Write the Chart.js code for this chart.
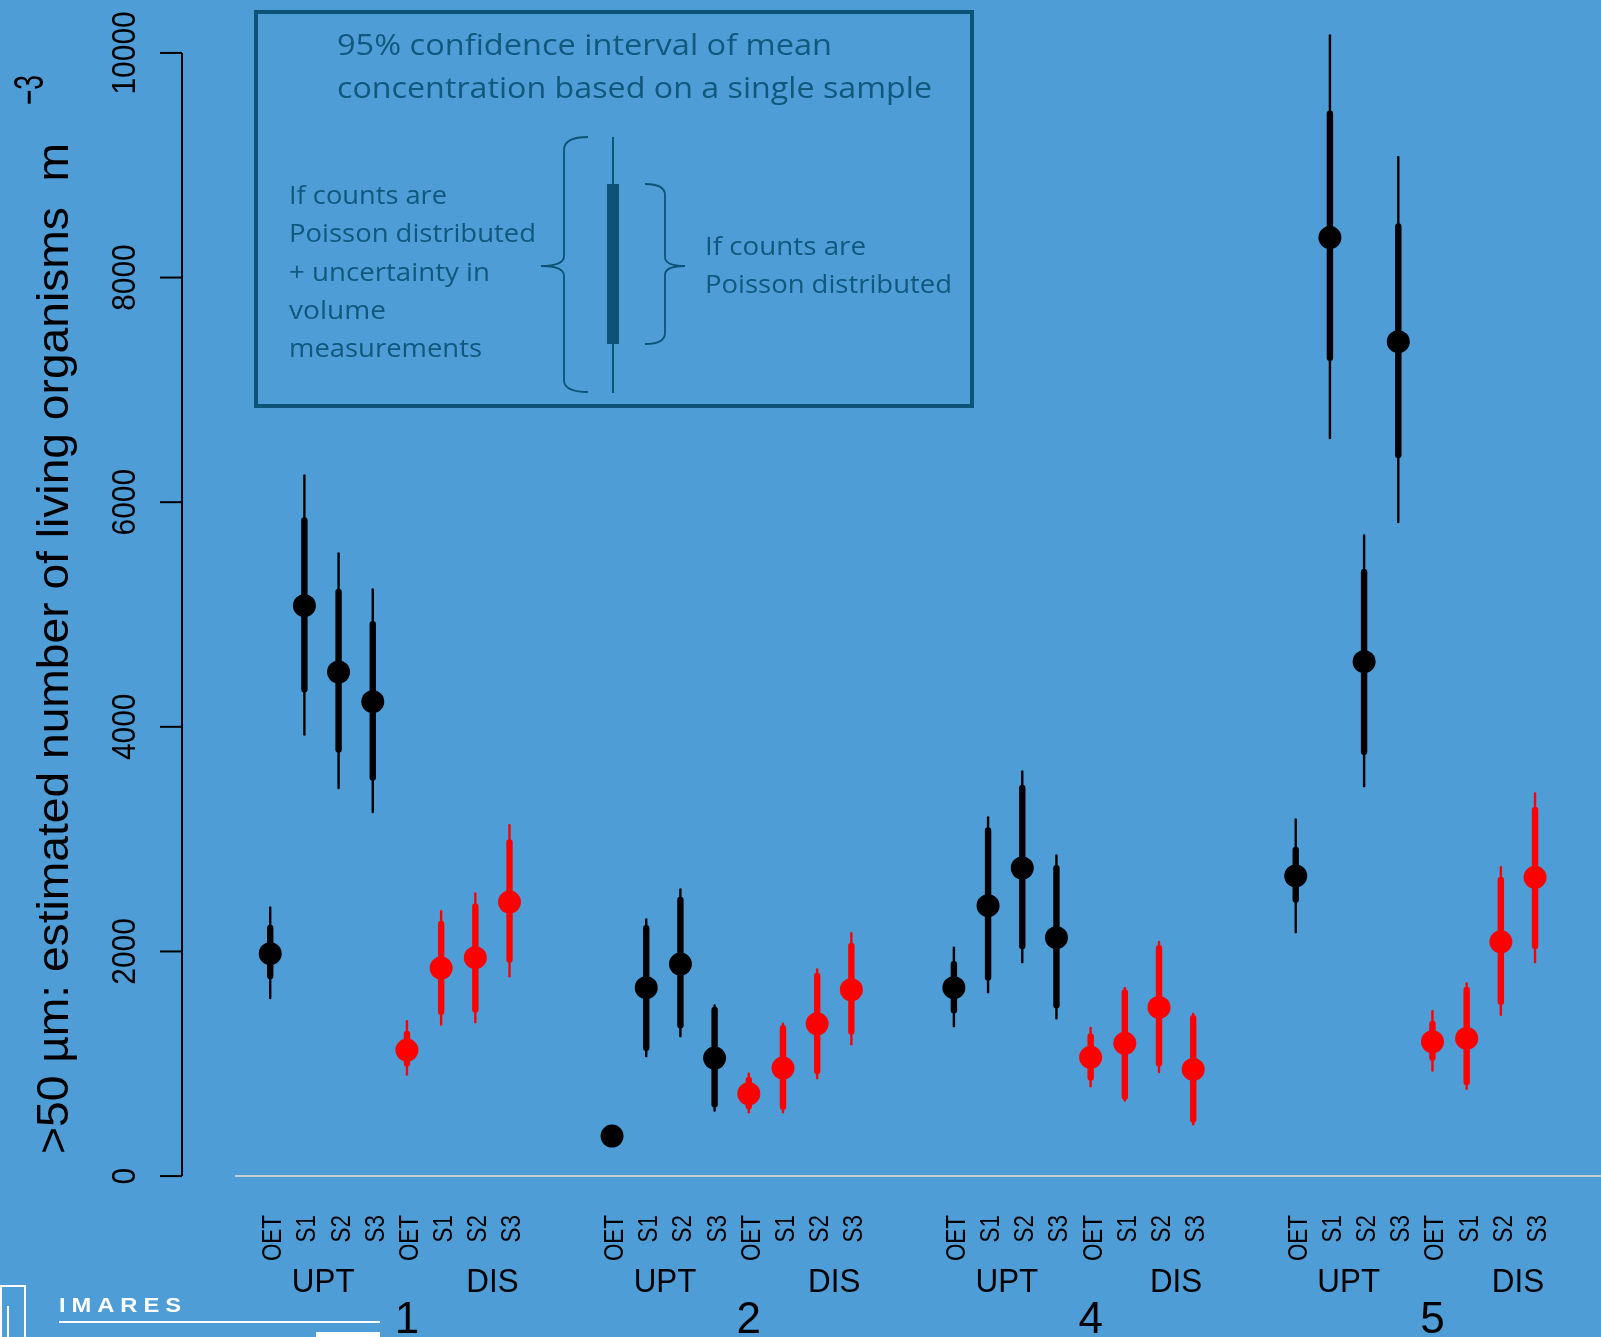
<!DOCTYPE html>
<html>
<head>
<meta charset="utf-8">
<title>Living organisms &gt;50 µm</title>
<script src="https://cdn.jsdelivr.net/npm/chart.js@4"></script>
<style>
  html, body { margin: 0; padding: 0; background: #4f9dd7; overflow: hidden; }
  #wrap { position: relative; width: 1601px; height: 1337px; }
</style>
</head>
<body>
<div id="wrap"><canvas id="myChart"></canvas></div>
<script>
const GROUPS = ['1', '2', '4', '5'];
const SITES = ['OET', 'S1', 'S2', 'S3'];
const SIDES = ['UPT', 'DIS'];
const Y_TICKS = [0, 2000, 4000, 6000, 8000, 10000];

// each array: 4 groups x 4 sites (OET, S1, S2, S3)
const uptMean    = [1980, 5079, 4488, 4224,   356, 1677, 1888, 1051,   1677, 2407, 2743, 2122,   2672, 8356, 4580, 7429];
const uptThickLo = [1752, 4307, 3770, 3520,   300, 1113, 1315,  612,   1449, 1739, 2021, 1493,   2434, 7258, 3749, 6391];
const uptThickHi = [2238, 5866, 5230, 4942,   420, 2235, 2487, 1508,   1915, 3105, 3485, 2770,   2932, 9487, 5405, 8484];
const uptThinLo  = [1574, 3921, 3444, 3230,   280, 1057, 1235,  573,   1324, 1627, 1894, 1395,   2161, 6560, 3461, 5812];
const uptThinHi  = [2402, 6249, 5554, 5233,   440, 2295, 2562, 1529,   2045, 3203, 3613, 2865,   3185, 10167, 5714, 9083];

const disMean    = [1122, 1852, 1944, 2440,   733,  962, 1356, 1659,   1057, 1182, 1502,  950,   1196, 1226, 2086, 2660];
const disThickLo = [ 973, 1434, 1454, 1899,   594,  588,  906, 1258,    849,  677,  973,  475,   1027,  810, 1523, 2021];
const disThickHi = [1294, 2273, 2428, 2998,   884, 1345, 1810, 2078,   1271, 1663, 2057, 1434,   1383, 1686, 2665, 3289];
const disThinLo  = [ 893, 1338, 1360, 1769,   558,  558,  861, 1164,    790,  662,  915,  450,    929,  766, 1425, 1894];
const disThinHi  = [1389, 2369, 2526, 3135,   923, 1368, 1850, 2173,   1330, 1686, 2095, 1454,   1478, 1725, 2761, 3417];

const BG = '#4f9dd7';
const TEAL = '#0c5375';
const TEAL_TEXT = '#10587c';

function xPos(g, side, i) {
    return g * 10 + side * 4 + i;
}

function buildPoints(side, means) {
    return means.map((v, k) => ({ x: xPos(Math.floor(k / 4), side, k % 4), y: v }));
}

function drawText(ctx, s, x, y, o) {
    ctx.save();
    ctx.translate(x, y);
    if (o.rot) ctx.rotate(o.rot);
    ctx.font = o.font;
    if (o.spacing) ctx.letterSpacing = o.spacing;
    ctx.fillStyle = o.color || '#000';
    ctx.textAlign = o.align || 'left';
    ctx.textBaseline = o.baseline || 'alphabetic';
    let sx = o.sx || 1;
    if (o.width) sx = o.width / ctx.measureText(s).width;
    ctx.scale(sx, 1);
    ctx.fillText(s, 0, 0);
    ctx.restore();
}

const background = {
    id: 'background',
    beforeDraw(chart) {
        const ctx = chart.ctx;
        ctx.save();
        ctx.fillStyle = BG;
        ctx.fillRect(0, 0, chart.width, chart.height);
        ctx.restore();
    }
};

const errorBars = {
    id: 'errorBars',
    beforeDatasetsDraw(chart) {
        const ctx = chart.ctx;
        const xs = chart.scales.x, ys = chart.scales.y;
        ctx.save();
        // zero line
        ctx.strokeStyle = '#c8ccd0';
        ctx.lineWidth = 2;
        ctx.beginPath();
        ctx.moveTo(chart.chartArea.left, ys.getPixelForValue(0));
        ctx.lineTo(chart.chartArea.right, ys.getPixelForValue(0));
        ctx.stroke();

        chart.data.datasets.forEach(ds => {
            ctx.strokeStyle = ds.backgroundColor;
            ctx.lineCap = 'round';
            ds.data.forEach((pt, k) => {
                const px = xs.getPixelForValue(pt.x);
                // thin bar
                ctx.lineWidth = 2.4;
                let a = ys.getPixelForValue(ds.thinHi[k]) + 1.2;
                let b = ys.getPixelForValue(ds.thinLo[k]) - 1.2;
                ctx.beginPath(); ctx.moveTo(px, a); ctx.lineTo(px, b); ctx.stroke();
                // thick bar
                ctx.lineWidth = 6.4;
                a = ys.getPixelForValue(ds.thickHi[k]) + 3.2;
                b = ys.getPixelForValue(ds.thickLo[k]) - 3.2;
                if (b > a) {
                    ctx.beginPath(); ctx.moveTo(px, a); ctx.lineTo(px, b); ctx.stroke();
                }
            });
        });
        ctx.restore();
    }
};

const axesAndNotes = {
    id: 'axesAndNotes',
    afterDraw(chart) {
        const ctx = chart.ctx;
        const xs = chart.scales.x, ys = chart.scales.y;
        const up = -Math.PI / 2;
        ctx.save();

        // y axis
        const axX = 182;
        ctx.strokeStyle = '#000';
        ctx.lineWidth = 2;
        ctx.beginPath();
        ctx.moveTo(axX, ys.getPixelForValue(Y_TICKS[0]));
        ctx.lineTo(axX, ys.getPixelForValue(Y_TICKS[Y_TICKS.length - 1]));
        ctx.stroke();
        Y_TICKS.forEach(v => {
            const py = ys.getPixelForValue(v);
            ctx.beginPath(); ctx.moveTo(axX - 22, py); ctx.lineTo(axX, py); ctx.stroke();
            drawText(ctx, String(v), 135, py, { rot: up, font: '34px "Liberation Sans", Arial', align: 'center', sx: 0.88 });
        });

        // y title
        drawText(ctx, '>50 µm: estimated number of living organisms  m', 68, 1154,
            { rot: up, font: '45px "Liberation Sans", Arial', width: 1011 });
        drawText(ctx, '\u22123', 43, 105, { rot: up, font: '42px "Liberation Sans", Arial', width: 30 });

        // category labels
        GROUPS.forEach((gl, g) => {
            SIDES.forEach((sl, s) => {
                SITES.forEach((site, i) => {
                    const px = xs.getPixelForValue(xPos(g, s, i)) + 3.5;
                    drawText(ctx, site, px, 1215, { rot: up, font: '27px "Liberation Sans", Arial', align: 'right', baseline: 'middle', sx: 0.83 });
                });
                const cx = xs.getPixelForValue(g * 10 + (s ? 6.5 : 1.55));
                drawText(ctx, sl, cx, 1292, { font: '33px "Liberation Sans", Arial', align: 'center', sx: 0.95 });
            });
            drawText(ctx, gl, xs.getPixelForValue(g * 10 + 4), 1333, { font: '44px "Liberation Sans", Arial', align: 'center' });
        });

        // logo corner
        ctx.strokeStyle = '#fff';
        ctx.fillStyle = '#fff';
        ctx.lineWidth = 2;
        ctx.strokeRect(1, 1286, 24, 60);
        ctx.beginPath(); ctx.moveTo(8, 1306); ctx.lineTo(8, 1340); ctx.stroke();
        drawText(ctx, 'IMARES', 59, 1312, { font: 'bold 20px "Liberation Sans", Arial', color: '#fff', spacing: '5px', width: 128 });
        ctx.fillRect(59, 1321, 321, 2);
        ctx.fillRect(316, 1332, 64, 6);

        // explanation box
        ctx.strokeStyle = TEAL;
        ctx.lineWidth = 4;
        ctx.strokeRect(256, 12, 716, 394);

        const f1 = '30px "Open Sans", "Noto Sans", sans-serif';
        drawText(ctx, '95% confidence interval of mean', 337, 55, { font: f1, color: TEAL_TEXT, width: 495 });
        drawText(ctx, 'concentration based on a single sample', 337, 98, { font: f1, color: TEAL_TEXT, width: 595 });

        const f2 = '25px "Open Sans", "Noto Sans", sans-serif';
        const leftLines = [['If counts are', 158], ['Poisson distributed', 247], ['+ uncertainty in', 201], ['volume', 97], ['measurements', 193]];
        leftLines.forEach((ln, k) => {
            drawText(ctx, ln[0], 289, 204 + k * 38.3, { font: f2, color: TEAL_TEXT, width: ln[1] });
        });
        drawText(ctx, 'If counts are', 705, 255, { font: f2, color: TEAL_TEXT, width: 161 });
        drawText(ctx, 'Poisson distributed', 705, 293, { font: f2, color: TEAL_TEXT, width: 247 });

        // legend whisker
        ctx.lineWidth = 2;
        ctx.beginPath(); ctx.moveTo(613, 137); ctx.lineTo(613, 393); ctx.stroke();
        ctx.fillStyle = TEAL;
        ctx.fillRect(607, 184, 12, 160);

        // braces
        ctx.lineWidth = 1.8;
        ctx.beginPath();
        ctx.moveTo(588, 137);
        ctx.quadraticCurveTo(564, 137, 564, 150);
        ctx.lineTo(564, 256);
        ctx.quadraticCurveTo(564, 266, 541, 266);
        ctx.quadraticCurveTo(564, 266, 564, 276);
        ctx.lineTo(564, 380);
        ctx.quadraticCurveTo(564, 392, 588, 392);
        ctx.stroke();

        ctx.beginPath();
        ctx.moveTo(645, 184);
        ctx.quadraticCurveTo(665, 184, 665, 195);
        ctx.lineTo(665, 257);
        ctx.quadraticCurveTo(665, 266, 685, 266);
        ctx.quadraticCurveTo(665, 266, 665, 275);
        ctx.lineTo(665, 333);
        ctx.quadraticCurveTo(665, 344, 645, 344);
        ctx.stroke();

        ctx.restore();
    }
};

function makeSet(label, side, color, mean, tLo, tHi, nLo, nHi) {
    return {
        label: label,
        data: buildPoints(side, mean),
        backgroundColor: color,
        pointRadius: 11.5,
        pointHoverRadius: 11.5,
        pointBorderWidth: 0,
        thickLo: tLo, thickHi: tHi, thinLo: nLo, thinHi: nHi,
        clip: false
    };
}

const ctx = document.getElementById('myChart').getContext('2d');
const myChart = new Chart(ctx, {
    type: 'scatter',
    data: {
        datasets: [
            makeSet('UPT', 0, '#000000', uptMean, uptThickLo, uptThickHi, uptThinLo, uptThinHi),
            makeSet('DIS', 1, '#ff0000', disMean, disThickLo, disThickHi, disThinLo, disThinHi)
        ]
    },
    options: {
        responsive: true,
        maintainAspectRatio: false,
        animation: false,
        events: [],
        layout: { autoPadding: false, padding: { left: 235, right: 0, top: 8, bottom: 116 } },
        plugins: { legend: { display: false }, tooltip: { enabled: false } },
        scales: {
            x: { type: 'linear', display: false, min: -1.03, max: 38.93 },
            y: { type: 'linear', display: false, min: -400, max: 10400 }
        }
    },
    plugins: [background, errorBars, axesAndNotes]
});
</script>
</body>
</html>
